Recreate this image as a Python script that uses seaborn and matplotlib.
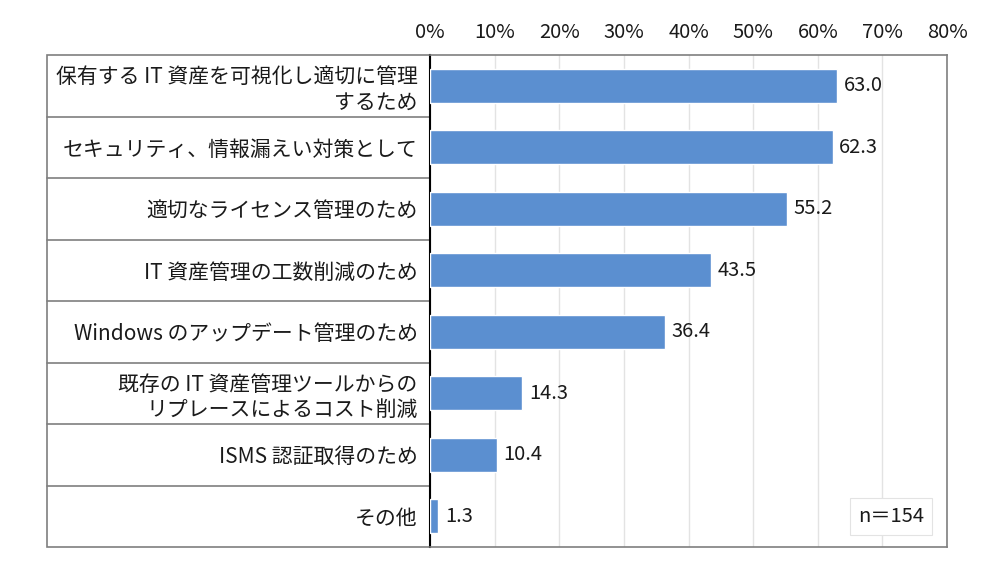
import matplotlib
matplotlib.use('Agg')
import matplotlib.pyplot as plt
import pandas as pd
import seaborn as sns
from matplotlib.patches import Rectangle
from matplotlib.ticker import FuncFormatter

categories = [
    '保有する IT 資産を可視化し適切に管理\nするため',
    'セキュリティ、情報漏えい対策として',
    '適切なライセンス管理のため',
    'IT 資産管理の工数削減のため',
    'Windows のアップデート管理のため',
    '既存の IT 資産管理ツールからの\nリプレースによるコスト削減',
    'ISMS 認証取得のため',
    'その他',
]
values = [63.0, 62.3, 55.2, 43.5, 36.4, 14.3, 10.4, 1.3]
ticks = [0, 10, 20, 30, 40, 50, 60, 70, 80]
note = 'n＝154'

df = pd.DataFrame({'item': categories, 'pct': values})

sns.set_theme(style='white')
plt.rcParams['font.family'] = ['Noto Sans CJK JP', 'DejaVu Sans']

fig = plt.figure(figsize=(10, 5.77), dpi=100)
W, H = 1000, 577
left_px, right_px, top_px, bottom_px = 430, 947, 55, 547
ax = fig.add_axes([left_px / W, 1 - bottom_px / H, (right_px - left_px) / W, (bottom_px - top_px) / H])

sns.barplot(df, x='pct', y='item', orient='h', color='#5B8FD0', width=0.55,
            saturation=1, ax=ax, zorder=3)
ax.set_xlim(0, 80)
ax.set_ylim(len(categories) - 0.5, -0.5)
ax.set_xticks(ticks)
ax.xaxis.set_major_formatter(FuncFormatter(lambda v, p: f'{v:.0f}%'))
ax.xaxis.tick_top()
ax.tick_params(axis='x', length=0, pad=9, labelsize=14.5, colors='#1a1a1a')
ax.tick_params(axis='y', length=0, pad=9, labelsize=15, colors='#1a1a1a')
for lab in ax.get_yticklabels():
    lab.set_horizontalalignment('right')
    lab.set_multialignment('right')
    lab.set_linespacing(1.2)
ax.set_xlabel('')
ax.set_ylabel('')
ax.grid(axis='x', color='#E3E3E3', linewidth=1, zorder=0)

for s in ['top', 'right', 'bottom']:
    ax.spines[s].set_color('#7F7F7F')
    ax.spines[s].set_linewidth(1.2)
ax.spines['left'].set_color('#000000')
ax.spines['left'].set_linewidth(1.5)

for bar, v in zip(ax.patches, values):
    ax.text(bar.get_width() + 1.0, bar.get_y() + bar.get_height() / 2, f'{v:.1f}',
            va='center', ha='left', fontsize=14.5, color='#1a1a1a')

# label column: box and row separators
col_left = (47 - left_px) / (right_px - left_px)
trans = ax.get_yaxis_transform()
ax.add_patch(Rectangle((col_left, 0), -col_left, 1, transform=ax.transAxes, fill=False,
                       edgecolor='#7F7F7F', linewidth=1.2, clip_on=False))
for i in range(1, len(categories)):
    ax.plot([col_left, 0], [i - 0.5, i - 0.5], transform=trans, color='#7F7F7F',
            linewidth=1.2, clip_on=False)

ax.text(0.892, 0.062, note, transform=ax.transAxes, ha='center', va='center',
        fontsize=14.5, color='#1a1a1a',
        bbox=dict(boxstyle='square,pad=0.4', facecolor='white', edgecolor='#E3E3E3', linewidth=0.8))

fig.savefig('out.png', dpi=100, facecolor='white')
